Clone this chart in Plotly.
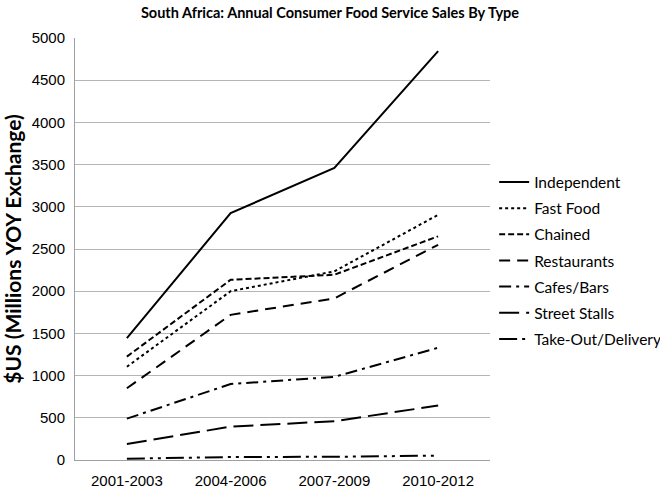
import plotly.graph_objects as go

periods = ["2001-2003", "2004-2006", "2007-2009", "2010-2012"]
independent = [1445, 2925, 3460, 4845]
fast_food = [1105, 2000, 2235, 2905]
chained = [1225, 2135, 2195, 2650]
restaurants = [850, 1720, 1915, 2550]
cafes_bars = [490, 900, 985, 1330]
street_stalls = [190, 395, 460, 645]
take_out = [15, 35, 38, 52]

series = [
    ("Independent", independent, "solid"),
    ("Fast Food", fast_food, "dot"),
    ("Chained", chained, "6px,3px"),
    ("Restaurants", restaurants, "11px,7px"),
    ("Cafes/Bars", cafes_bars, "12px,5px,3px,5px"),
    ("Street Stalls", street_stalls, "20px,7px"),
    ("Take-Out/Delivery", take_out, "18px,5px,3px,5px,3px,5px"),
]

fig = go.Figure()
for i, (name, vals, dash) in enumerate(series):
    fig.add_trace(go.Scatter(
        x=periods, y=vals, name=name, mode="lines",
        line=dict(color="black", width=2, dash=dash),
        legendgroup=f"g{i}",
    ))

fig.update_layout(
    width=660, height=490,
    margin=dict(l=75, r=170, t=38, b=30, autoexpand=False),
    paper_bgcolor="white", plot_bgcolor="white",
    title=dict(text="<b>South Africa: Annual Consumer Food Service Sales By Type</b>",
               x=0.5, xanchor="center", y=1 - 13 / 490, yanchor="middle",
               font=dict(family="Lato", size=14.5, color="black")),
    font=dict(family="Liberation Sans", size=15, color="black"),
    legend=dict(x=1.01, y=0.698, xanchor="left", yanchor="top",
                font=dict(family="Lato", size=15.5, color="black"),
                tracegroupgap=3, itemwidth=30, bgcolor="rgba(0,0,0,0)"),
    showlegend=True,
)
fig.update_xaxes(showgrid=False, showline=True, linecolor="#a0a0a0", linewidth=1,
                 ticks="", tickfont=dict(size=15), range=[-0.5, 3.5], automargin=False,
                 ticklabelstandoff=7)
fig.update_yaxes(range=[0, 5000], dtick=500, showgrid=True, gridcolor="#b5b5b5",
                 gridwidth=1, showline=True, linecolor="#a0a0a0", linewidth=1,
                 ticks="", zeroline=False, tickfont=dict(size=15), automargin=False,
                 ticklabelstandoff=6,
                 title=dict(text="<b>$US (Millions YOY Exchange)</b>",
                            font=dict(family="Lato", size=21), standoff=20))

fig.write_html("out.html", config={"displayModeBar": False},
               post_script="document.body.style.margin='0';")
